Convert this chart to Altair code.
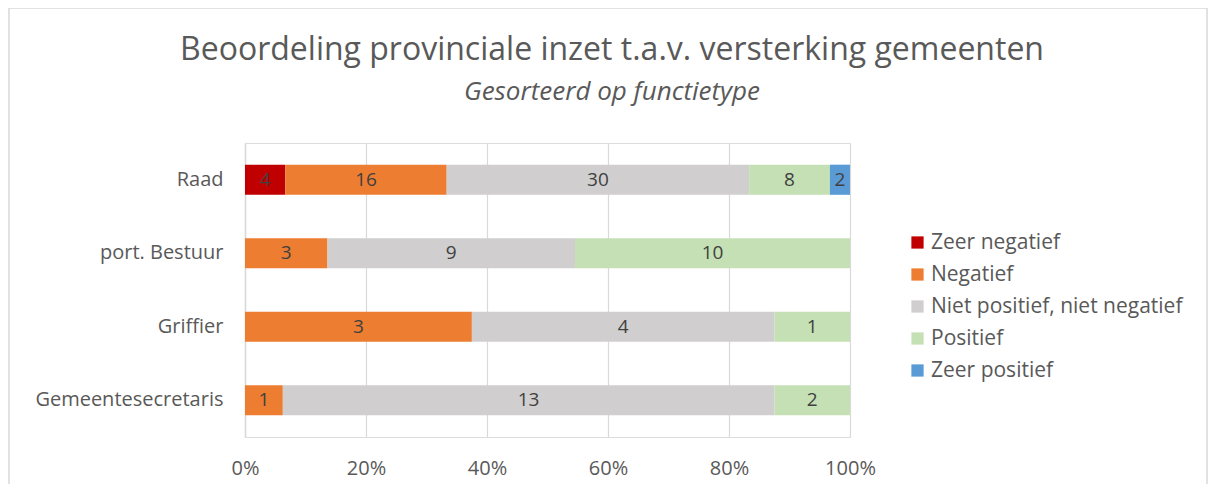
import altair as alt
import pandas as pd

functies = ["Raad", "port. Bestuur", "Griffier", "Gemeentesecretaris"]
series = ["Zeer negatief", "Negatief", "Niet positief, niet negatief", "Positief", "Zeer positief"]
colors = ["#C00000", "#ED7D31", "#D0CECE", "#C5E0B4", "#5B9BD5"]

zeer_negatief = [4, 0, 0, 0]
negatief = [16, 3, 3, 1]
neutraal = [30, 9, 4, 13]
positief = [8, 10, 1, 2]
zeer_positief = [2, 0, 0, 0]

x_ticks = [0, 0.2, 0.4, 0.6, 0.8, 1.0]

titel = "Beoordeling provinciale inzet t.a.v. versterking gemeenten"
ondertitel = "Gesorteerd op functietype"

values_by_series = [zeer_negatief, negatief, neutraal, positief, zeer_positief]
rows = []
for si, (s, vals) in enumerate(zip(series, values_by_series)):
    for f, v in zip(functies, vals):
        rows.append({"functie": f, "oordeel": s, "volgorde": si, "aantal": v})
df = pd.DataFrame(rows)

FONT = "Open Sans"
GRAY = "#595959"
FS = 20

base = alt.Chart(df).transform_filter("datum.aantal > 0").transform_stack(
    stack="aantal",
    groupby=["functie"],
    sort=[alt.SortField("volgorde", order="ascending")],
    as_=["x0", "x1"],
    offset="normalize",
).transform_calculate(mid="(datum.x0 + datum.x1) / 2")

y_enc = alt.Y(
    "functie:N",
    sort=functies,
    title=None,
    scale=alt.Scale(paddingInner=0.59, paddingOuter=0.295),
    axis=alt.Axis(
        labelFontSize=FS, labelColor=GRAY, labelFont=FONT, ticks=False, labelLimit=400,
        domain=True, domainColor="#d9d9d9", domainWidth=1.5, labelPadding=22, grid=False,
    ),
)

bars = base.mark_bar().encode(
    x=alt.X(
        "x0:Q",
        scale=alt.Scale(domain=[0, 1]),
        title=None,
        axis=alt.Axis(
            format="%", values=x_ticks, labelFontSize=FS, labelColor=GRAY, labelFont=FONT,
            grid=True, gridColor="#d9d9d9", gridWidth=1.2, domain=False, ticks=False,
            labelPadding=21, labelFlush=False,
        ),
    ),
    x2="x1:Q",
    y=y_enc,
    color=alt.Color(
        "oordeel:N",
        scale=alt.Scale(domain=series, range=colors),
        title=None,
        legend=alt.Legend(
            orient="none", legendX=662, legendY=89, symbolType="square", symbolSize=150,
            symbolStrokeWidth=0, labelFontSize=21, labelColor=GRAY, labelFont=FONT,
            rowPadding=10, labelOffset=3, labelLimit=400,
        ),
    ),
)

labels = base.mark_text(fontSize=19, color="#404040", font=FONT).encode(
    x="mid:Q",
    y=alt.Y("functie:N", sort=functies),
    text="aantal:Q",
)

border = alt.Chart(pd.DataFrame({"a": [0]})).mark_rect(
    fill=None, stroke="#d9d9d9", strokeWidth=1.5
).encode(
    x=alt.value(-236), x2=alt.value(962), y=alt.value(-135), y2=alt.value(360)
)

title_df = pd.DataFrame({"t": [titel]})
sub_df = pd.DataFrame({"t": [ondertitel]})
title_mark = alt.Chart(title_df).mark_text(
    fontSize=32, font=FONT, color=GRAY, align="center", baseline="middle"
).encode(text="t:N", x=alt.value(367), y=alt.value(-93))
sub_mark = alt.Chart(sub_df).mark_text(
    fontSize=26, font=FONT, fontStyle="italic", color=GRAY, align="center", baseline="middle"
).encode(text="t:N", x=alt.value(367), y=alt.value(-51))

chart = alt.layer(border, bars, labels, title_mark, sub_mark).properties(
    width=605,
    height=294,
    autosize=alt.AutoSizeParams(type="none"),
    padding={"left": 237, "top": 135, "right": 358, "bottom": 47},
).configure_view(stroke=None).configure(background="white")

chart.save("out.html", embed_options={"renderer": "svg", "actions": False})
